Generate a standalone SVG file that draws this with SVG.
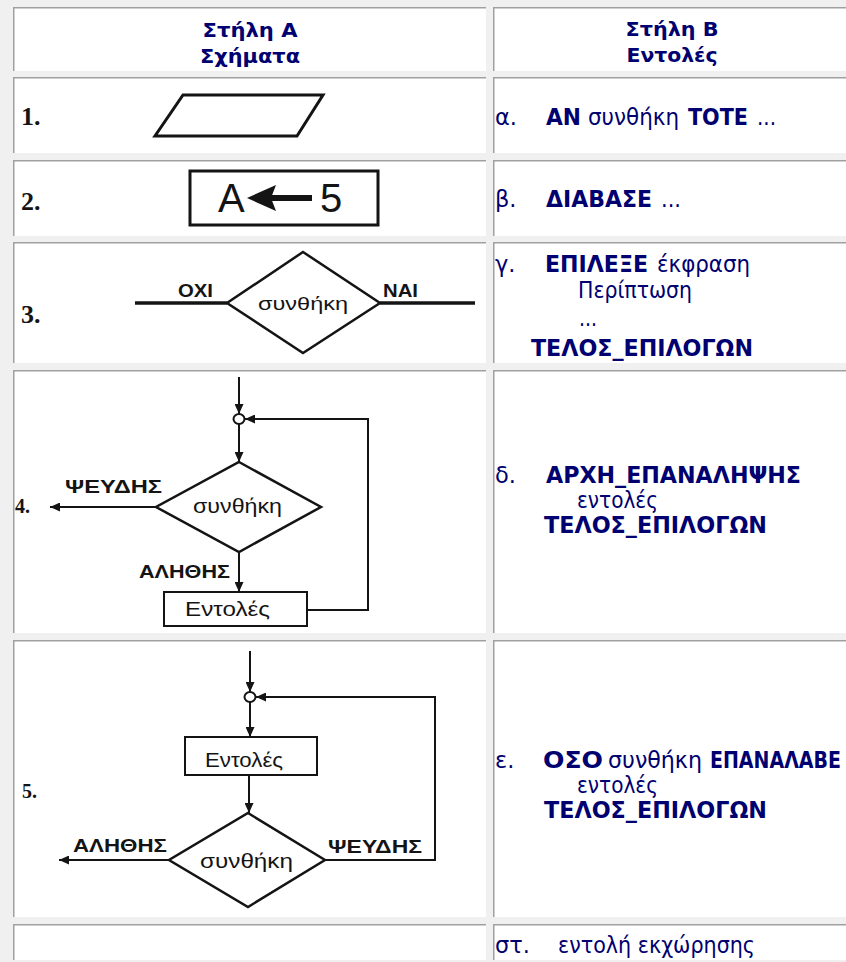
<svg xmlns="http://www.w3.org/2000/svg" width="846" height="962" viewBox="0 0 846 962">
  <defs>
    <!-- filled arrowhead shared by all flowchart connectors -->
    <marker id="ah" markerUnits="userSpaceOnUse" viewBox="0 0 10 9" markerWidth="10" markerHeight="9" refX="10" refY="4.5" orient="auto">
      <path d="M0,0 L10,4.5 L0,9 Z" fill="#141414"/>
    </marker>
  </defs>
  <style>
    .cell{fill:#ffffff}
    .edge{fill:none;stroke:#a0a0a0;stroke-width:1.5}
    .h{font-family:"DejaVu Sans","Noto Sans",sans-serif;font-size:20px;font-weight:bold;fill:#000070;text-anchor:middle}
    .t{font-family:"DejaVu Sans","Noto Sans",sans-serif;font-size:22.5px;fill:#000070}
    .b{font-weight:bold}
    .num{font-family:"Liberation Serif","Times New Roman",serif;font-weight:bold;fill:#141414}
    .ln{fill:none;stroke:#141414;stroke-width:2}
    .shape{fill:none;stroke:#141414;stroke-width:2.5;stroke-linejoin:miter}
    .fl{font-family:"Liberation Sans",Arial,sans-serif;fill:#141414}
    .lbl{font-family:"Liberation Sans",Arial,sans-serif;font-weight:bold;font-size:18px;fill:#141414}
  </style>

  <!-- page background -->
  <rect width="846" height="962" fill="#f0f0f0"/>

  <!-- table cells (inset borders: dark top/left) -->
  <g id="cells">
    <g id="cell-head-a"><rect class="cell" x="13" y="7" width="473" height="64"/><path class="edge" d="M13.75,71 V7.75 H486"/></g>
    <g id="cell-head-b"><rect class="cell" x="493" y="7" width="360" height="64"/><path class="edge" d="M493.75,71 V7.75 H853"/></g>
    <g id="cell-1a"><rect class="cell" x="13" y="77" width="473" height="76"/><path class="edge" d="M13.75,153 V77.75 H486"/></g>
    <g id="cell-1b"><rect class="cell" x="493" y="77" width="360" height="76"/><path class="edge" d="M493.75,153 V77.75 H853"/></g>
    <g id="cell-2a"><rect class="cell" x="13" y="160" width="473" height="76"/><path class="edge" d="M13.75,236 V160.75 H486"/></g>
    <g id="cell-2b"><rect class="cell" x="493" y="160" width="360" height="76"/><path class="edge" d="M493.75,236 V160.75 H853"/></g>
    <g id="cell-3a"><rect class="cell" x="13" y="242" width="473" height="121"/><path class="edge" d="M13.75,363 V242.75 H486"/></g>
    <g id="cell-3b"><rect class="cell" x="493" y="242" width="360" height="121"/><path class="edge" d="M493.75,363 V242.75 H853"/></g>
    <g id="cell-4a"><rect class="cell" x="13" y="370" width="473" height="263"/><path class="edge" d="M13.75,633 V370.75 H486"/></g>
    <g id="cell-4b"><rect class="cell" x="493" y="370" width="360" height="263"/><path class="edge" d="M493.75,633 V370.75 H853"/></g>
    <g id="cell-5a"><rect class="cell" x="13" y="640" width="473" height="277"/><path class="edge" d="M13.75,917 V640.75 H486"/></g>
    <g id="cell-5b"><rect class="cell" x="493" y="640" width="360" height="277"/><path class="edge" d="M493.75,917 V640.75 H853"/></g>
    <g id="cell-6a"><rect class="cell" x="13" y="924" width="473" height="36"/><path class="edge" d="M13.75,960 V924.75 H486"/></g>
    <g id="cell-6b"><rect class="cell" x="493" y="924" width="360" height="36"/><path class="edge" d="M493.75,960 V924.75 H853"/></g>
  </g>

  <!-- column headings -->
  <g id="heading-a">
    <text class="h" x="250" y="37" textLength="95" lengthAdjust="spacingAndGlyphs">Στήλη Α</text>
    <text class="h" x="250" y="63" textLength="100" lengthAdjust="spacingAndGlyphs">Σχήματα</text>
  </g>
  <g id="heading-b">
    <text class="h" x="672" y="36" textLength="93" lengthAdjust="spacingAndGlyphs">Στήλη Β</text>
    <text class="h" x="672" y="62" textLength="91" lengthAdjust="spacingAndGlyphs">Εντολές</text>
  </g>

  <!-- 1. input/output parallelogram -->
  <g id="shape-1">
    <text class="num" x="21" y="125" font-size="26">1.</text>
    <polygon points="183,95 323,95 297,136 155,136" fill="none" stroke="#141414" stroke-width="3" stroke-linejoin="miter"/>
  </g>

  <!-- 2. assignment box -->
  <g id="shape-2">
    <text class="num" x="21" y="210" font-size="26">2.</text>
    <rect x="190" y="171" width="188" height="54" fill="none" stroke="#141414" stroke-width="3"/>
    <text class="fl" x="218" y="212" font-size="40">A</text>
    <rect x="270" y="195" width="42" height="6" fill="#141414"/>
    <polygon points="247,198 276,185 271,198 276,211" fill="#141414"/>
    <text class="fl" x="320" y="212" font-size="40">5</text>
  </g>

  <!-- 3. decision with two branches -->
  <g id="shape-3">
    <text class="num" x="21" y="323" font-size="26">3.</text>
    <polygon class="shape" points="303,252 380,303 303,353 227,303"/>
    <text class="fl" x="258" y="310" font-size="18" textLength="90" lengthAdjust="spacingAndGlyphs">συνθήκη</text>
    <text class="lbl" x="178" y="297" textLength="35" lengthAdjust="spacingAndGlyphs">ΟΧΙ</text>
    <text class="lbl" x="383" y="297" textLength="35" lengthAdjust="spacingAndGlyphs">ΝΑΙ</text>
  </g>
  <g id="connectors-3">
    <path d="M135,303 H227" fill="none" stroke="#141414" stroke-width="3.5"/>
    <path d="M380,303 H475" fill="none" stroke="#141414" stroke-width="3.5"/>
  </g>

  <!-- 4. pre-test loop -->
  <g id="shape-4">
    <text class="num" x="15" y="513" font-size="20">4.</text>
    <g id="n4-join"><ellipse cx="239" cy="419" rx="5.5" ry="5" fill="#fff" stroke="#141414" stroke-width="2"/></g>
    <g id="n4-cond">
      <polygon class="shape" points="239,462 321,507 239,552 156,507"/>
      <text class="fl" x="193" y="513" font-size="20" textLength="89" lengthAdjust="spacingAndGlyphs">συνθήκη</text>
    </g>
    <g id="n4-body">
      <rect x="164" y="592" width="143" height="34" fill="#fff" stroke="#141414" stroke-width="2"/>
      <text class="fl" x="185" y="616" font-size="20" textLength="85" lengthAdjust="spacingAndGlyphs">Εντολές</text>
    </g>
    <text class="lbl" x="65" y="493" textLength="97" lengthAdjust="spacingAndGlyphs">ΨΕΥΔΗΣ</text>
    <text class="lbl" x="139" y="578" textLength="91" lengthAdjust="spacingAndGlyphs">ΑΛΗΘΗΣ</text>
  </g>
  <g id="connectors-4">
    <path class="ln" d="M239,377 V414" marker-end="url(#ah)"/>
    <path class="ln" d="M239,424 V462" marker-end="url(#ah)"/>
    <path class="ln" d="M156,507 H50" marker-end="url(#ah)"/>
    <path class="ln" d="M239,552 V592" marker-end="url(#ah)"/>
    <path class="ln" d="M307,610 H368 V419 H245" marker-end="url(#ah)"/>
  </g>

  <!-- 5. post-test loop -->
  <g id="shape-5">
    <text class="num" x="22" y="798" font-size="20">5.</text>
    <g id="n5-join"><ellipse cx="250" cy="697" rx="5.5" ry="5" fill="#fff" stroke="#141414" stroke-width="2"/></g>
    <g id="n5-body">
      <rect x="185" y="737" width="132" height="38" fill="#fff" stroke="#141414" stroke-width="2"/>
      <text class="fl" x="205" y="767" font-size="20" textLength="78" lengthAdjust="spacingAndGlyphs">Εντολές</text>
    </g>
    <g id="n5-cond">
      <polygon class="shape" points="248,813 325,860 248,907 169,860"/>
      <text class="fl" x="200" y="868" font-size="20" textLength="93" lengthAdjust="spacingAndGlyphs">συνθήκη</text>
    </g>
    <text class="lbl" x="73" y="852" textLength="94" lengthAdjust="spacingAndGlyphs">ΑΛΗΘΗΣ</text>
    <text class="lbl" x="328" y="853" textLength="94" lengthAdjust="spacingAndGlyphs">ΨΕΥΔΗΣ</text>
  </g>
  <g id="connectors-5">
    <path class="ln" d="M250,651 V692" marker-end="url(#ah)"/>
    <path class="ln" d="M250,702 V737" marker-end="url(#ah)"/>
    <path class="ln" d="M249,775 V813" marker-end="url(#ah)"/>
    <path class="ln" d="M169,860 H59" marker-end="url(#ah)"/>
    <path class="ln" d="M325,860 H435 V697 H256" marker-end="url(#ah)"/>
  </g>

  <!-- column B statements -->
  <g id="stmt-a">
    <text class="t" x="495" y="125">α.</text>
    <text class="t b" x="546" y="125" textLength="35" lengthAdjust="spacingAndGlyphs">ΑΝ</text>
    <text class="t" x="588" y="125" textLength="91" lengthAdjust="spacingAndGlyphs">συνθήκη</text>
    <text class="t b" x="688" y="125" textLength="60" lengthAdjust="spacingAndGlyphs">ΤΟΤΕ</text>
    <text class="t" x="757" y="125" textLength="19" lengthAdjust="spacingAndGlyphs">...</text>
  </g>
  <g id="stmt-b">
    <text class="t" x="495" y="207">β.</text>
    <text class="t b" x="546" y="207" textLength="106" lengthAdjust="spacingAndGlyphs">ΔΙΑΒΑΣΕ</text>
    <text class="t" x="661" y="207" textLength="20" lengthAdjust="spacingAndGlyphs">...</text>
  </g>
  <g id="stmt-c">
    <text class="t" x="495" y="272">γ.</text>
    <text class="t b" x="545" y="272" textLength="103" lengthAdjust="spacingAndGlyphs">ΕΠΙΛΕΞΕ</text>
    <text class="t" x="657" y="272" textLength="93" lengthAdjust="spacingAndGlyphs">έκφραση</text>
    <text class="t" x="578" y="298" textLength="114" lengthAdjust="spacingAndGlyphs">Περίπτωση</text>
    <text class="t" x="579" y="326" textLength="18" lengthAdjust="spacingAndGlyphs">...</text>
    <text class="t b" x="531" y="356" textLength="222" lengthAdjust="spacingAndGlyphs">ΤΕΛΟΣ_ΕΠΙΛΟΓΩΝ</text>
  </g>
  <g id="stmt-d">
    <text class="t" x="495" y="483">δ.</text>
    <text class="t b" x="546" y="483" textLength="255" lengthAdjust="spacingAndGlyphs">ΑΡΧΗ_ΕΠΑΝΑΛΗΨΗΣ</text>
    <text class="t" x="577" y="508" textLength="81" lengthAdjust="spacingAndGlyphs">εντολές</text>
    <text class="t b" x="544" y="533" textLength="223" lengthAdjust="spacingAndGlyphs">ΤΕΛΟΣ_ΕΠΙΛΟΓΩΝ</text>
  </g>
  <g id="stmt-e">
    <text class="t" x="495" y="768">ε.</text>
    <text class="t b" x="543" y="768" textLength="60" lengthAdjust="spacingAndGlyphs">ΟΣΟ</text>
    <text class="t" x="608" y="768" textLength="94" lengthAdjust="spacingAndGlyphs">συνθήκη</text>
    <text class="t b" x="710" y="768" textLength="131" lengthAdjust="spacingAndGlyphs">ΕΠΑΝΑΛΑΒΕ</text>
    <text class="t" x="577" y="793" textLength="81" lengthAdjust="spacingAndGlyphs">εντολές</text>
    <text class="t b" x="544" y="818" textLength="223" lengthAdjust="spacingAndGlyphs">ΤΕΛΟΣ_ΕΠΙΛΟΓΩΝ</text>
  </g>
  <g id="stmt-f">
    <text class="t" x="495" y="953">στ.</text>
    <text class="t" x="558" y="953" textLength="197" lengthAdjust="spacingAndGlyphs">εντολή εκχώρησης</text>
  </g>
</svg>
